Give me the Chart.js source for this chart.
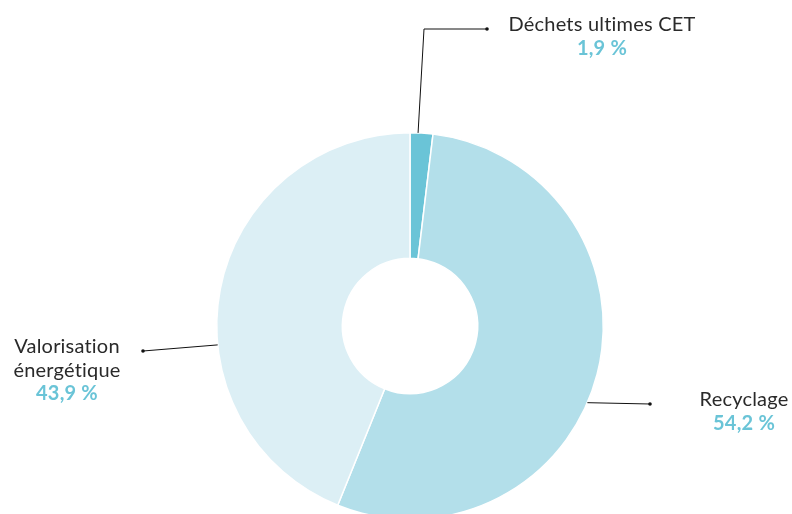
<!DOCTYPE html>
<html>
<head>
<meta charset="utf-8">
<style>
  html, body { margin: 0; padding: 0; background: #fff; overflow: hidden; }
  #wrap { position: relative; width: 792px; height: 540px; }
</style>
<script src="https://cdn.jsdelivr.net/npm/chart.js@4.4.1/dist/chart.umd.min.js"></script>
</head>
<body>
<div id="wrap"><canvas id="c"></canvas></div>
<script>
const categories = ["Déchets ultimes CET", "Recyclage", "Valorisation énergétique"];
const labelLines = [["Déchets ultimes CET"], ["Recyclage"], ["Valorisation", "énergétique"]];
const values = [1.9, 54.2, 43.9];
const percentLabels = ["1,9 %", "54,2 %", "43,9 %"];
const colors = ["#6AC4D7", "#B3DFEA", "#DCEFF5"];

// label layout: anchor fraction along the slice, leader path, text block
const layout = [
  { frac: 0.35, path: [[424, 29], [487, 29]], textX: 602, textY: 25 },
  { frac: 0.546, path: [[650, 404]], textX: 744, textY: 400 },
  { frac: 0.395, path: [[143, 351]], textX: 67, textY: 347 }
];

const leaderPlugin = {
  id: 'leaders',
  afterDraw(chart) {
    const ctx = chart.ctx;
    const meta = chart.getDatasetMeta(0);
    meta.data.forEach((arc, i) => {
      const L = layout[i];
      const p = arc.getProps(['x', 'y', 'startAngle', 'endAngle', 'outerRadius'], true);
      const a = p.startAngle + (p.endAngle - p.startAngle) * L.frac;
      const sx = p.x + Math.cos(a) * p.outerRadius;
      const sy = p.y + Math.sin(a) * p.outerRadius;
      ctx.save();
      ctx.strokeStyle = '#111';
      ctx.lineWidth = 1;
      ctx.beginPath();
      ctx.moveTo(sx, sy);
      L.path.forEach(pt => ctx.lineTo(pt[0], pt[1]));
      ctx.stroke();
      const end = L.path[L.path.length - 1];
      ctx.fillStyle = '#111';
      ctx.beginPath();
      ctx.arc(end[0], end[1], 1.8, 0, Math.PI * 2);
      ctx.fill();
      ctx.textAlign = 'center';
      ctx.textBaseline = 'middle';
      if ('letterSpacing' in ctx) ctx.letterSpacing = '0.2px';
      ctx.fillStyle = '#2a2a2a';
      ctx.font = '20px Lato';
      let y = L.textY;
      labelLines[i].forEach(line => { ctx.fillText(line, L.textX, y); y += 23.5; });
      ctx.fillStyle = '#6AC4D7';
      ctx.font = 'bold 20px Lato';
      ctx.fillText(percentLabels[i], L.textX, y);
      ctx.restore();
    });
  }
};

new Chart(document.getElementById('c'), {
  type: 'doughnut',
  data: {
    labels: categories,
    datasets: [{
      data: values,
      backgroundColor: colors,
      borderColor: '#ffffff',
      borderWidth: 1.5,
      hoverOffset: 0
    }]
  },
  options: {
    responsive: true,
    maintainAspectRatio: false,
    animation: false,
    cutout: '35%',
    layout: { padding: { left: 216, right: 188, top: 132, bottom: 20 } },
    plugins: { legend: { display: false }, tooltip: { enabled: false } },
    events: []
  },
  plugins: [leaderPlugin]
});
</script>
</body>
</html>
